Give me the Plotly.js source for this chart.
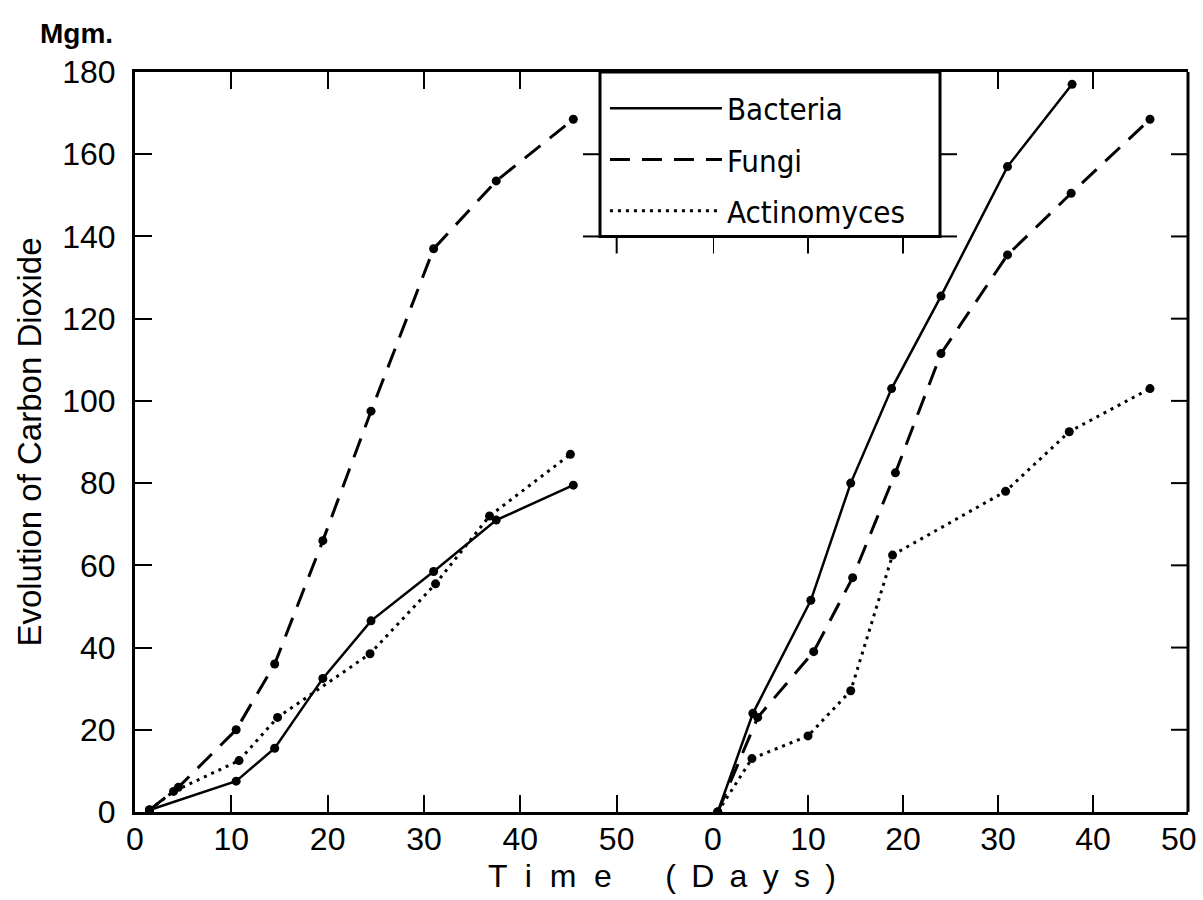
<!DOCTYPE html>
<html>
<head>
<meta charset="utf-8">
<script src="https://cdn.plot.ly/plotly-3.0.1.min.js"></script>
<style>
html,body{margin:0;padding:0;background:#ffffff;}
#chart{width:1203px;height:900px;}
</style>
</head>
<body>
<div id="chart"></div>
<script>
// ---- Data (days, mg CO2) ----
// Left experiment
const leftBacteriaDays = [1.5, 10.5, 14.5, 19.5, 24.5, 31, 37.5, 45.5];
const leftBacteriaCO2  = [0.5, 7.5, 15.5, 32.5, 46.5, 58.5, 71, 79.5];
const leftFungiDays    = [1.5, 4.5, 10.5, 14.5, 19.5, 24.5, 31, 37.5, 45.5];
const leftFungiCO2     = [0.5, 6, 20, 36, 66, 97.5, 137, 153.5, 168.5];
const leftActinoDays   = [1.5, 4, 10.8, 14.8, 24.4, 31.2, 36.8, 45.2];
const leftActinoCO2    = [0.5, 5, 12.5, 23, 38.5, 55.5, 72, 87];
// Right experiment
const rightBacteriaDays = [0.5, 4.2, 10.3, 14.5, 18.8, 24, 31, 37.8];
const rightBacteriaCO2  = [0, 24, 51.5, 80, 103, 125.5, 157, 177];
const rightFungiDays    = [0.5, 4.7, 10.6, 14.7, 19.2, 24, 31, 37.7, 46];
const rightFungiCO2     = [0, 23, 39, 57, 82.5, 111.5, 135.5, 150.5, 168.5];
const rightActinoDays   = [0.5, 4.1, 10, 14.5, 18.9, 30.8, 37.5, 46];
const rightActinoCO2    = [0, 13, 18.5, 29.5, 62.5, 78, 92.5, 103];

const seriesNames = ['Bacteria', 'Fungi', 'Actinomyces'];
const dayTicks = [0, 10, 20, 30, 40, 50];
const dayLabels = ['0', '10', '20', '30', '40', '50'];
const co2Ticks = [0, 20, 40, 60, 80, 100, 120, 140, 160, 180];

const yTitle = 'Evolution of Carbon Dioxide';
const unitLabel = 'Mgm.';
const SP2 = '  ', SPT = ' \u2009';
const xTitle = ['T', 'i', 'm', 'e'].join(SP2) + '      ' + ['(', 'D', 'a', 'y', 's', ')'].join(SPT);

// ---- Styles ----
const lineStyles = {
  'Bacteria':    {dash: 'solid', width: 2.5},
  'Fungi':       {dash: '20px,12px', width: 3},
  'Actinomyces': {dash: '3px,5px', width: 3}
};

const panels = [
  {xa: 'x',  legend: true,
   data: {'Bacteria': [leftBacteriaDays, leftBacteriaCO2],
          'Fungi': [leftFungiDays, leftFungiCO2],
          'Actinomyces': [leftActinoDays, leftActinoCO2]}},
  {xa: 'x2', legend: false,
   data: {'Bacteria': [rightBacteriaDays, rightBacteriaCO2],
          'Fungi': [rightFungiDays, rightFungiCO2],
          'Actinomyces': [rightActinoDays, rightActinoCO2]}}
];

const traces = [];
panels.forEach(p => {
  seriesNames.forEach(name => {
    const d = p.data[name];
    traces.push({
      type: 'scatter', mode: 'lines', name: name, legendgroup: name,
      x: d[0], y: d[1], xaxis: p.xa, yaxis: 'y',
      showlegend: p.legend,
      line: {color: '#000', width: lineStyles[name].width, dash: lineStyles[name].dash}
    });
    traces.push({
      type: 'scatter', mode: 'markers', name: name, legendgroup: name,
      x: d[0], y: d[1], xaxis: p.xa, yaxis: 'y',
      showlegend: false,
      marker: {color: '#000', size: 9, symbol: 'circle'}
    });
  });
});

// ---- Geometry (paper fractions) ----
const leftDomainEnd = 578 / 1053;
const legendBox = {x0: 0.4416, x1: 0.7645, yBottom: 140, yTop: 180};
const LEFT_RANGE = [0, 60], RIGHT_RANGE = [0, 50], CO2_RANGE = [0, 180];
const TICKLEN = 17;

const tickFont = {family: 'Liberation Sans, Arial, sans-serif', size: 32, color: '#000'};
const axisCommon = {
  showline: true, linecolor: '#000', linewidth: 3,
  ticks: 'inside', ticklen: TICKLEN, tickwidth: 2, tickcolor: '#000',
  tickfont: tickFont, showgrid: false, zeroline: false, fixedrange: true
};

const shapes = [];
const tickLine = {color: '#000', width: 2};
// right border of the frame with inward ticks
shapes.push({type: 'line', xref: 'paper', yref: 'y', x0: 1, x1: 1, y0: CO2_RANGE[0], y1: CO2_RANGE[1],
  line: {color: '#000', width: 3}, layer: 'above'});
co2Ticks.filter(v => v > CO2_RANGE[0] && v < CO2_RANGE[1]).forEach(v => {
  shapes.push({type: 'line', xref: 'paper', xsizemode: 'pixel', xanchor: 1,
    x0: 0, x1: -TICKLEN, yref: 'y', y0: v, y1: v, line: tickLine, layer: 'above'});
});
// legend frame cut into the plot frame
shapes.push({type: 'rect', xref: 'paper', yref: 'y', x0: legendBox.x0, x1: legendBox.x1,
  y0: legendBox.yBottom, y1: legendBox.yTop, fillcolor: '#fff',
  line: {color: '#000', width: 3}, layer: 'above'});
// inward ticks continuing on the legend frame edges
co2Ticks.filter(v => v >= legendBox.yBottom && v < legendBox.yTop).forEach(v => {
  shapes.push({type: 'line', xref: 'paper', xsizemode: 'pixel', xanchor: legendBox.x0,
    x0: 0, x1: -TICKLEN, yref: 'y', y0: v, y1: v, line: tickLine, layer: 'above'});
  shapes.push({type: 'line', xref: 'paper', xsizemode: 'pixel', xanchor: legendBox.x1,
    x0: 0, x1: TICKLEN, yref: 'y', y0: v, y1: v, line: tickLine, layer: 'above'});
});
const leftEdgeDays = (legendBox.x0 / leftDomainEnd) * (LEFT_RANGE[1] - LEFT_RANGE[0]);
const rightEdgeDays = ((legendBox.x1 - leftDomainEnd) / (1 - leftDomainEnd)) * (RIGHT_RANGE[1] - RIGHT_RANGE[0]);
dayTicks.filter(v => v > leftEdgeDays).forEach(v => {
  shapes.push({type: 'line', xref: 'x', x0: v, x1: v, yref: 'y', ysizemode: 'pixel',
    yanchor: legendBox.yBottom, y0: 0, y1: -TICKLEN, line: tickLine, layer: 'above'});
});
dayTicks.filter(v => v < rightEdgeDays).forEach(v => {
  shapes.push({type: 'line', xref: 'x2', x0: v, x1: v, yref: 'y', ysizemode: 'pixel',
    yanchor: legendBox.yBottom, y0: 0, y1: -TICKLEN, line: tickLine, layer: 'above'});
});

// right panel: last label sits inside the frame corner, drawn as an annotation
const lastIdx = dayTicks.length - 1;
const rightTickText = dayLabels.map((t, i) => i === lastIdx ? '' : t);

const layout = {
  width: 1203, height: 900,
  margin: {l: 135, r: 15, t: 72, b: 88, pad: 0},
  paper_bgcolor: '#fff', plot_bgcolor: 'rgba(0,0,0,0)',
  font: {family: 'Liberation Sans, Arial, sans-serif', color: '#000'},
  showlegend: true,
  legend: {
    x: 0.4463, xanchor: 'left', y: 0.987, yanchor: 'top',
    bgcolor: 'rgba(0,0,0,0)', borderwidth: 0,
    font: {family: 'Liberation Sans Narrow, DejaVu Sans Condensed, Arial Narrow, sans-serif', size: 31, color: '#000'},
    itemwidth: 112, tracegroupgap: 8, itemclick: false, itemdoubleclick: false
  },
  xaxis: Object.assign({}, axisCommon, {domain: [0, leftDomainEnd], range: LEFT_RANGE, anchor: 'y',
    tickvals: dayTicks, ticktext: dayLabels, mirror: 'ticks', ticklabelstandoff: -3}),
  xaxis2: Object.assign({}, axisCommon, {domain: [leftDomainEnd, 1], range: RIGHT_RANGE, anchor: 'y',
    tickvals: dayTicks, ticktext: rightTickText, mirror: 'ticks', ticklabelstandoff: -3}),
  yaxis: Object.assign({}, axisCommon, {domain: [0, 1], range: CO2_RANGE, anchor: 'x',
    tickvals: co2Ticks, ticktext: co2Ticks.map(String), ticklabelstandoff: 10}),
  shapes: shapes,
  annotations: [
    {text: dayLabels[lastIdx], xref: 'x2', yref: 'paper', x: dayTicks[lastIdx], y: 0,
     xanchor: 'right', yanchor: 'top', xshift: 11, yshift: -7, showarrow: false,
     font: tickFont},
    {text: unitLabel, xref: 'paper', yref: 'paper', x: -0.0551, y: 1.0514,
     xanchor: 'center', yanchor: 'middle', showarrow: false,
     font: {family: 'Liberation Sans, Arial, sans-serif', size: 28, weight: 'bold', color: '#000'}},
    {text: yTitle, xref: 'paper', yref: 'paper', x: -0.1006, y: 0.4993, textangle: -90,
     xanchor: 'center', yanchor: 'middle', showarrow: false,
     font: {family: 'Liberation Sans, Arial, sans-serif', size: 33, color: '#000'}},
    {text: xTitle, xref: 'paper', yref: 'paper', x: 0.5005, y: -0.0865,
     xanchor: 'center', yanchor: 'middle', showarrow: false,
     font: {family: 'Liberation Sans, Arial, sans-serif', size: 32, color: '#000'}}
  ]
};

Plotly.newPlot('chart', traces, layout, {staticPlot: true, displayModeBar: false});
</script>
</body>
</html>
